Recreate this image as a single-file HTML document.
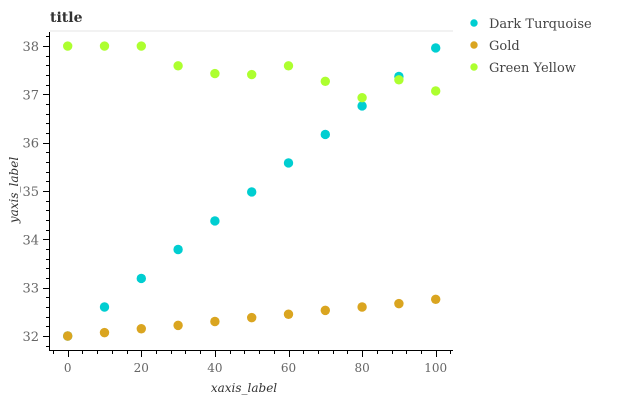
<!DOCTYPE html>
<html><head><meta charset="utf-8"><style>
body{margin:0;background:#fff;}
svg text{font-family:"DejaVu Serif","Liberation Serif",serif;}
</style></head><body>
<svg width="617" height="400" id="c" xmlns="http://www.w3.org/2000/svg">
<text x="50" y="22" font-size="14" font-weight="bold" fill="#333">title</text>
<g id="plot"></g>
<text x="244" y="392" font-size="12" font-style="italic" fill="#333" text-anchor="middle">xaxis_label</text>
<text transform="translate(18,190) rotate(-90)" font-size="12" font-style="italic" fill="#333" text-anchor="middle">yaxis_label</text>
</svg>
<script>
const xValues=[0,10,20,30,40,50,60,70,80,90,100];
const seriesNames=["Dark Turquoise","Gold","Green Yellow"];
const seriesColors=["#00CED1","#DAA520","#ADFF2F"];
const turquoise=[32,32.6,33.19,33.79,34.38,34.98,35.58,36.17,36.76,37.37,37.96];
const gold=[32,32.07,32.15,32.22,32.3,32.38,32.45,32.53,32.6,32.67,32.76];
const greenYellow=[38,38,38,37.59,37.43,37.41,37.59,37.27,36.93,37.3,37.07];
const xTicks=[0,20,40,60,80,100];
const yTicks=[32,33,34,35,36,37,38];
const NS="http://www.w3.org/2000/svg";
const sx=v=>67.7+v*3.68;
const sy=v=>336-(v-32)*48.33;
const g=document.getElementById('plot');
function el(t,a){const e=document.createElementNS(NS,t);for(const k in a)e.setAttribute(k,a[k]);g.appendChild(e);return e;}
let e;
e=el('line',{x1:50,y1:31,x2:453,y2:31,stroke:'#e6e6e6','stroke-width':1});


e=el('line',{x1:49.5,y1:32,x2:49.5,y2:351,stroke:'#000','stroke-width':1});


e=el('line',{x1:49.5,y1:350.5,x2:453,y2:350.5,stroke:'#000','stroke-width':1});


for(let v=31.8;v<=38.21;v+=0.2){const y=Math.round(sy(v))+0.5;const maj=Math.abs(v-Math.round(v))<0.01;
e=el('line',{x1:maj?43:46,y1:y,x2:49.5,y2:y,stroke:'#000'});

}
for(let v=-4;v<=104;v+=4){const x=Math.round(sx(v))+0.5;const maj=v%20===0;
e=el('line',{x1:x,y1:351,x2:x,y2:maj?357:354,stroke:'#000'});

}
yTicks.forEach(t=>{e=el('text',{x:39,y:sy(t)+5,'font-size':13,fill:'#666','text-anchor':'end'});e.textContent=t;

});
xTicks.forEach(t=>{e=el('text',{x:sx(t),y:372,'font-size':12,fill:'#666','text-anchor':'middle'});e.textContent=t;

});
[turquoise,gold,greenYellow].forEach((s,i)=>{s.forEach((v,j)=>{e=el('circle',{cx:sx(xValues[j]),cy:sy(v),r:4.7,fill:seriesColors[i]});

});});
seriesNames.forEach((n,i)=>{const y=24+i*22;
e=el('circle',{cx:474,cy:y-1,r:3.7,fill:seriesColors[i]});


e=el('text',{x:489,y:y+4,'font-size':13,fill:'#444'});e.textContent=n;

});
</script>
</body></html>
